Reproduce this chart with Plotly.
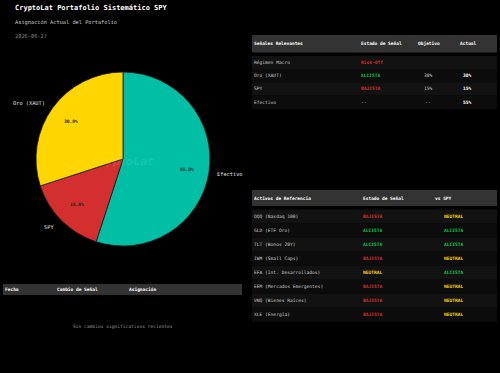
import math
import plotly.graph_objects as go

W, H = 500, 373
MONO = "DejaVu Sans Mono"

# ---- data ----
pie_labels = ["Efectivo", "SPY", "Oro (XAUT)"]
pie_values = [55.0, 15.0, 30.0]
pie_colors = ["#00BFA5", "#D32F2F", "#FFD600"]

sig_header = ["Señales Relevantes", "Estado de Señal", "Objetivo", "Actual"]
sig_names = ["Régimen Macro", "Oro (XAUT)", "SPY", "Efectivo"]
sig_state = ["Risk-Off", "ALCISTA", "BAJISTA", "--"]
sig_target = ["", "30%", "15%", "--"]
sig_actual = ["", "30%", "15%", "55%"]

ref_header = ["Activos de Referencia", "Estado de Señal", "vs SPY"]
ref_names = ["QQQ (Nasdaq 100)", "GLD (ETF Oro)", "TLT (Bonos 20Y)", "IWM (Small Caps)",
             "EFA (Int. Desarrollados)", "EEM (Mercados Emergentes)", "VNQ (Bienes Raíces)", "XLE (Energía)"]
ref_state = ["BAJISTA", "ALCISTA", "ALCISTA", "BAJISTA", "NEUTRAL", "BAJISTA", "BAJISTA", "BAJISTA"]
ref_vs = ["NEUTRAL", "ALCISTA", "ALCISTA", "NEUTRAL", "ALCISTA", "NEUTRAL", "NEUTRAL", "NEUTRAL"]

chg_header = ["Fecha", "Cambio de Señal", "Asignación"]
chg_empty = "Sin cambios significativos recientes"

state_colors = {"ALCISTA": "#00C853", "BAJISTA": "#D32F2F", "NEUTRAL": "#FFD600",
                "Risk-Off": "#D32F2F", "--": "#CCCCCC"}


def px(x):
    return x / W


def py(y):
    return 1 - y / H


annotations = []
shapes = []


def text(x, y, s, size=4.6, color="#DDDDDD", bold=False, xanchor="left", family=MONO, italic=False):
    t = f"<b>{s}</b>" if bold else s
    if italic:
        t = f"<i>{t}</i>"
    annotations.append(dict(x=px(x), y=py(y), xref="paper", yref="paper", text=t, showarrow=False,
                            xanchor=xanchor, yanchor="middle", borderpad=0,
                            font=dict(family=family, size=size, color=color)))


def rect(x0, y0, x1, y1, color):
    shapes.append(dict(type="rect", xref="paper", yref="paper", x0=px(x0), x1=px(x1),
                       y0=py(y1), y1=py(y0), fillcolor=color, line=dict(width=0), layer="below"))


# titles
text(14, 7.5, "CryptoLat Portafolio Sistemático SPY", size=7.0, color="#FFFFFF", bold=True)
text(14, 22, "Asignación Actual del Portafolio", size=5.3, color="#CCCCCC")
text(14, 36.5, "2026-06-27", size=5.3, color="#888888")

# pie geometry
cx, cy, r = 123, 159, 87
pie = go.Pie(labels=pie_labels, values=pie_values, sort=False, direction="clockwise", rotation=0,
             marker=dict(colors=pie_colors, line=dict(color="#1A1A1A", width=0.8)),
             textinfo="none", hoverinfo="label+percent", showlegend=False,
             domain=dict(x=[px(cx - r), px(cx + r)], y=[py(cy + r), py(cy - r)]))

total = sum(pie_values)
cum = 0.0
for lab, v in zip(pie_labels, pie_values):
    mid = (cum + v / 2) / total * 2 * math.pi
    cum += v
    sx, sy = math.sin(mid), -math.cos(mid)
    lx, ly = cx + sx * r * 1.1, cy + sy * r * 1.1
    text(lx - (2 if sx > 0 else 0), ly, lab, size=5.3, color="#E0E0E0", xanchor="left" if sx > 0 else "right")
    tx, ty = cx + sx * r * 0.74, cy + sy * r * 0.74
    text(tx, ty, f"{v / total * 100:.1f}%", size=4.6, color="#222222", bold=True, xanchor="center")

# watermark
text(cx, 161, "CryptoLat", size=11, color="rgba(255,255,255,0.09)", bold=True, italic=True,
     xanchor="center", family="DejaVu Sans")

# ---- signals table ----
rect(252, 35, 497, 52.5, "#333333")
hx = [253, 360, 417, 459]
for x, h in zip(hx, sig_header):
    text(x, 43.7, h, size=4.5, color="#FFFFFF", bold=True)
row_h = 13.3
for i in range(len(sig_names)):
    y0 = 55.7 + i * row_h
    rect(252, y0, 497, y0 + row_h, "#121212" if i % 2 == 0 else "#0C0C0C")
    yc = y0 + row_h / 2
    text(253, yc, sig_names[i], color="#CCCCCC")
    text(360, yc, sig_state[i], color=state_colors[sig_state[i]], bold=sig_state[i] != "--")
    text(428, yc, sig_target[i], color="#CCCCCC", xanchor="center")
    text(467, yc, sig_actual[i], color="#FFFFFF", bold=True, xanchor="center")

# ---- reference table ----
rect(252, 190, 497, 206, "#333333")
for x, h in zip([253, 362, 434], ref_header):
    text(x, 198, h, size=4.5, color="#FFFFFF", bold=True)
row_h2 = 14.05
for i in range(len(ref_names)):
    y0 = 209.5 + i * row_h2
    rect(252, y0, 497, y0 + row_h2, "#121212" if i % 2 == 0 else "#0C0C0C")
    yc = y0 + row_h2 / 2
    text(253, yc, ref_names[i], color="#CCCCCC")
    text(362, yc, ref_state[i], color=state_colors[ref_state[i]], bold=True)
    text(443, yc, ref_vs[i], color=state_colors[ref_vs[i]], bold=True)

# ---- changes table ----
rect(3, 284, 242, 295, "#333333")
for x, h in zip([4, 56, 128], chg_header):
    text(x, 289.7, h, size=4.5, color="#FFFFFF", bold=True)
text(123, 326, chg_empty, color="#999999", xanchor="center")

fig = go.Figure(pie)
fig.update_layout(width=W, height=H, margin=dict(l=0, r=0, t=0, b=0),
                  paper_bgcolor="#000000", plot_bgcolor="#000000",
                  annotations=annotations, shapes=shapes)
fig.write_html("out.html")
